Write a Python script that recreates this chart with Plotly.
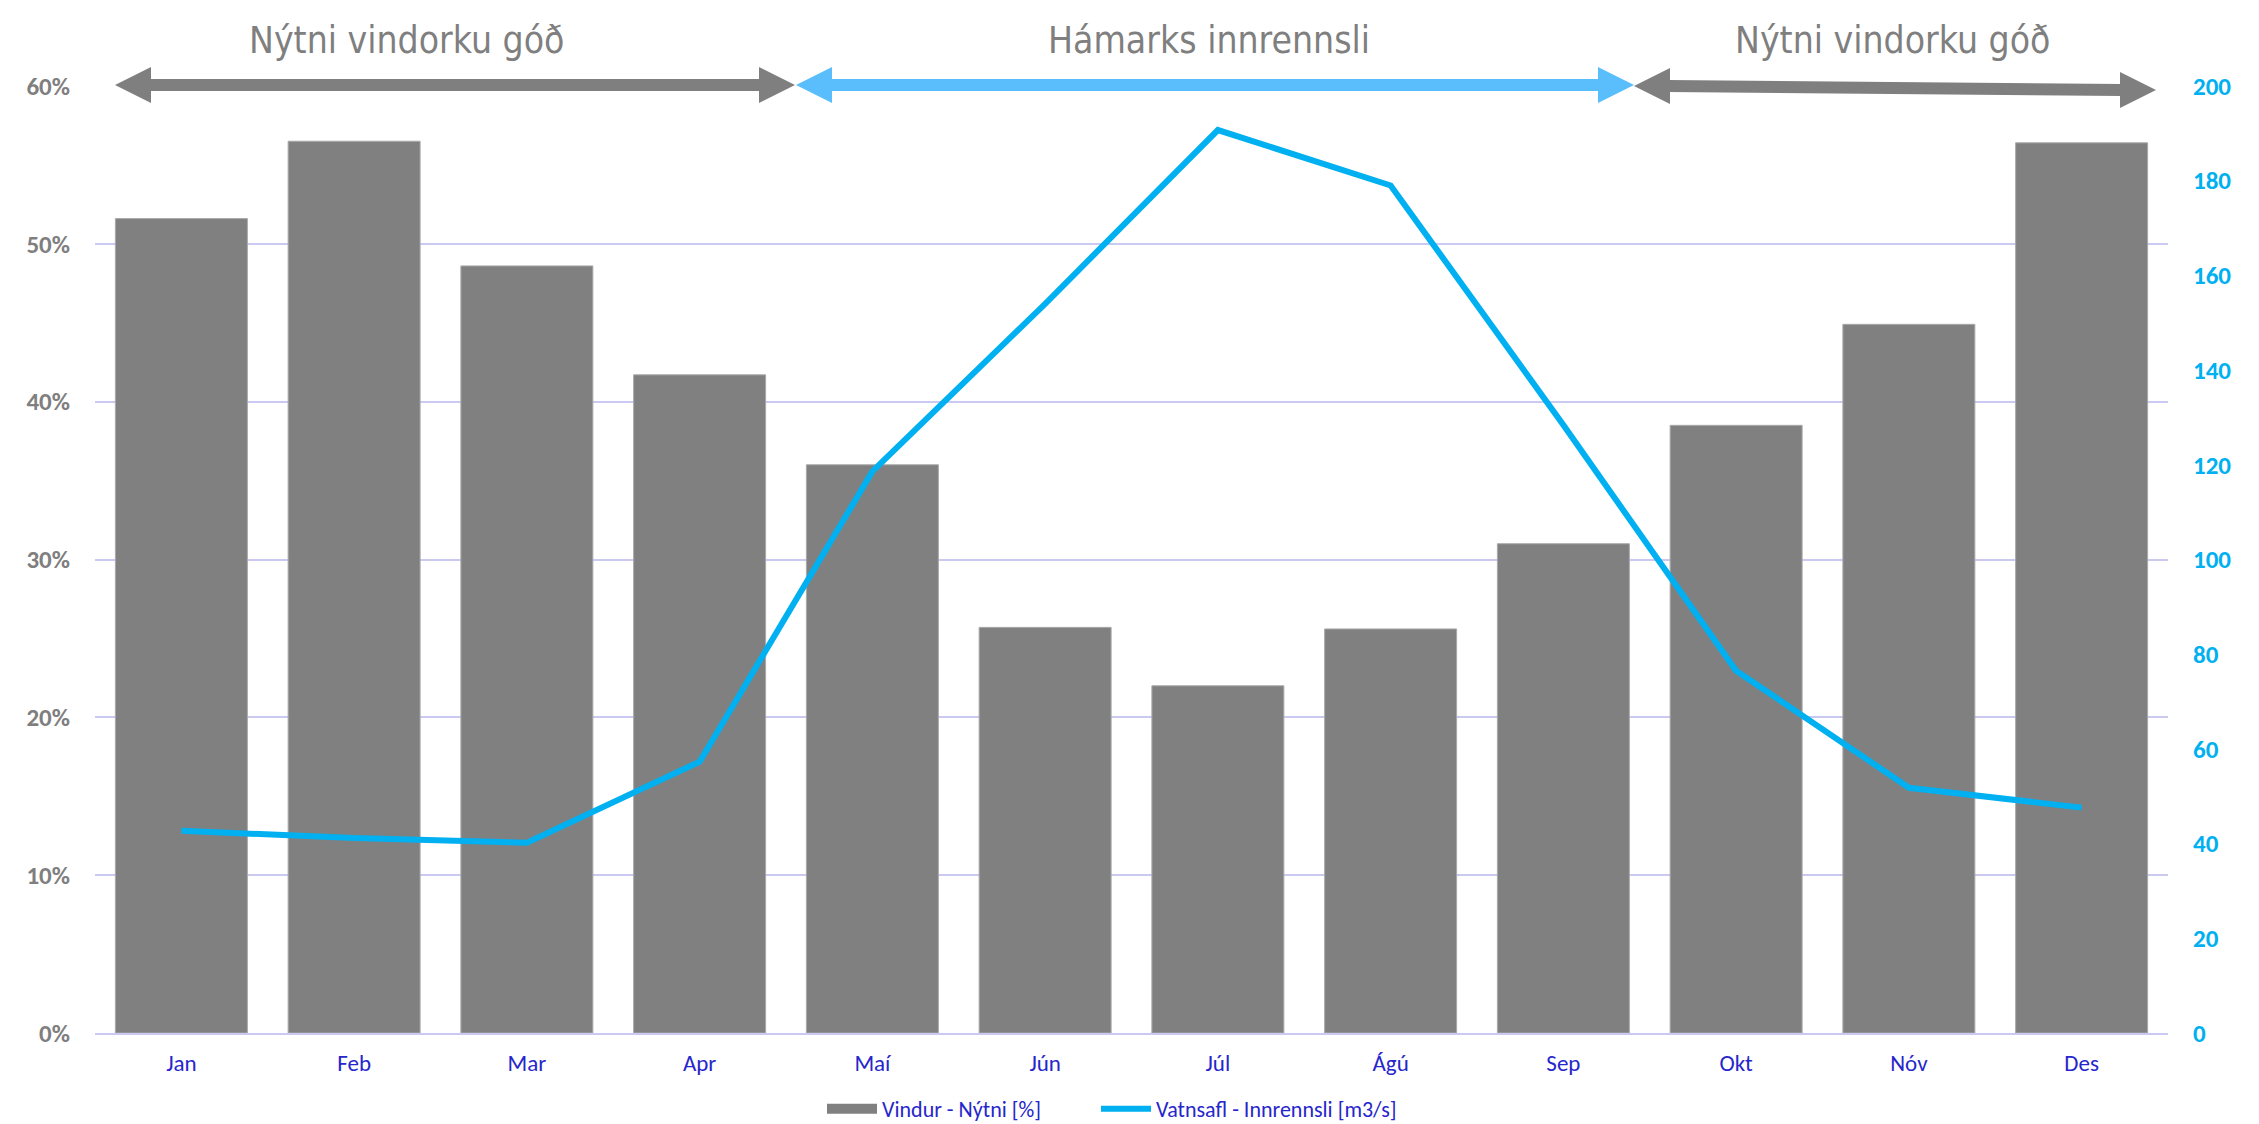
import plotly.graph_objects as go

months = ["Jan", "Feb", "Mar", "Apr", "Maí", "Jún", "Júl", "Ágú", "Sep", "Okt", "Nóv", "Des"]
wind_eff = [0.516, 0.565, 0.486, 0.417, 0.360, 0.257, 0.220, 0.256, 0.310, 0.385, 0.449, 0.564]
hydro_inflow = [42.7, 41.2, 40.2, 57.3, 118.6, 154.0, 190.7, 179.0, 128.4, 76.5, 51.8, 47.6]
left_ticks = [0, 0.1, 0.2, 0.3, 0.4, 0.5, 0.6]
right_ticks = [0, 20, 40, 60, 80, 100, 120, 140, 160, 180, 200]
bar_name = "Vindur - Nýtni [%]"
line_name = "Vatnsafl - Innrennsli [m3/s]"
period_titles = ["Nýtni vindorku góð", "Hámarks innrennsli", "Nýtni vindorku góð"]

W, H = 2259, 1124
ML, MR, MT, MB = 87, 99, 78, 99
PW = W - ML - MR
PH = H - MT - MB

def px(x):
    return (x - ML) / PW

def py(y):
    return (H - MB - y) / PH

BODY = "Carlito, Lato, sans-serif"
NARROW = "Liberation Sans Narrow, Arial Narrow, DejaVu Sans Condensed, sans-serif"
GRAY = "#7F7F7F"
BAR_GRAY = "#808080"
BLUE_TXT = "#2626CC"
LINE_BLUE = "#00B0F0"
ARROW_BLUE = "#5BBEFC"
GRID = "#C9C9F2"

fig = go.Figure()
fig.add_trace(go.Bar(x=months, y=wind_eff, name=bar_name, showlegend=False,
                     marker=dict(color=BAR_GRAY, line=dict(color="#A9A9A9", width=1)), yaxis="y"))
# legend swatch for the bars (wide rectangle like the original)
fig.add_trace(go.Scatter(x=[None], y=[None], name=bar_name, mode="lines", legend="legend",
                         line=dict(color=BAR_GRAY, width=16), yaxis="y"))
fig.add_trace(go.Scatter(x=months, y=hydro_inflow, name=line_name, mode="lines", legend="legend2",
                         line=dict(color=LINE_BLUE, width=6), yaxis="y2"))

# arrows: (left tip x, right tip x, left y, right y, color)
arrows = [
    (107, 787, 77, 77, GRAY),
    (788, 1626, 77, 77, ARROW_BLUE),
    (1626, 2148, 78, 82, GRAY),
]
HL, HH, SW = 36, 18, 12
shapes = []
for xl, xr, yl, yr, col in arrows:
    shapes.append(dict(type="line", xref="paper", yref="paper",
                       x0=px(xl + HL - 2), x1=px(xr - HL + 2), y0=py(yl), y1=py(yr),
                       line=dict(color=col, width=SW), layer="above"))
    shapes.append(dict(type="path", xref="paper", yref="paper", xsizemode="pixel", ysizemode="pixel",
                       xanchor=px(xl), yanchor=py(yl),
                       path=f"M 0 0 L {HL} {HH} L {HL} {-HH} Z",
                       fillcolor=col, line=dict(width=0), layer="above"))
    shapes.append(dict(type="path", xref="paper", yref="paper", xsizemode="pixel", ysizemode="pixel",
                       xanchor=px(xr), yanchor=py(yr),
                       path=f"M 0 0 L {-HL} {HH} L {-HL} {-HH} Z",
                       fillcolor=col, line=dict(width=0), layer="above"))

title_x = [398, 1201, 1884]
annotations = []
for t, x in zip(period_titles, title_x):
    annotations.append(dict(text=t, x=px(x), y=py(33), xref="paper", yref="paper",
                            xanchor="center", yanchor="middle", showarrow=False,
                            font=dict(family=NARROW, size=37, color=GRAY)))

legend_style = dict(orientation="h", xanchor="left", y=py(1101), yanchor="middle",
                    font=dict(family=BODY, size=22, color=BLUE_TXT), itemwidth=50,
                    bgcolor="rgba(0,0,0,0)")

fig.update_layout(
    width=W, height=H,
    margin=dict(l=ML, r=MR, t=MT, b=MB, autoexpand=False),
    paper_bgcolor="white", plot_bgcolor="white",
    bargap=0.236,
    showlegend=True,
    legend=dict(x=px(814), **legend_style),
    legend2=dict(x=px(1088), **legend_style),
    xaxis=dict(type="category", showgrid=False, showline=True, linecolor=GRID, linewidth=2,
               ticks="", tickfont=dict(family=BODY, size=23, color=BLUE_TXT), ticklabelstandoff=8,
               fixedrange=True, automargin=False),
    yaxis=dict(range=[0, 0.6], tickvals=left_ticks, tickformat=".0%", showgrid=True, gridcolor=GRID,
               gridwidth=1.5, zeroline=False, showline=False, ticks="", automargin=False,
               tickfont=dict(family=BODY, size=25, color=GRAY, weight="bold"), ticklabelstandoff=24),
    yaxis2=dict(range=[0, 200], tickvals=right_ticks, overlaying="y", side="right", showgrid=False,
                zeroline=False, showline=False, ticks="", automargin=False,
                tickfont=dict(family=BODY, size=25, color=LINE_BLUE, weight="bold"), ticklabelstandoff=24),
    shapes=shapes,
    annotations=annotations,
)

fig.write_html("out.html")
